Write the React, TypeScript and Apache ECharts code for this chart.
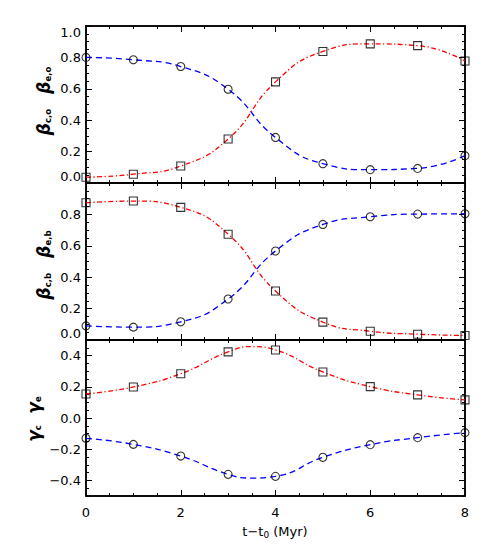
import React, { useEffect, useRef } from 'react';
import * as echarts from 'echarts';

// ---- data ----
const tValues = [0, 1, 2, 3, 4, 5, 6, 7, 8];

// top panel
const betaCO = [0.8, 0.785, 0.742, 0.597, 0.29, 0.123, 0.085, 0.093, 0.174]; // blue, circles
const betaEO = [0.037, 0.056, 0.108, 0.28, 0.644, 0.838, 0.886, 0.875, 0.777]; // red, squares

// middle panel
const betaCB = [0.09, 0.082, 0.116, 0.261, 0.567, 0.736, 0.785, 0.802, 0.804]; // blue, circles
const betaEB = [0.874, 0.885, 0.845, 0.674, 0.312, 0.114, 0.056, 0.037, 0.029]; // red, squares

// bottom panel
const gammaC = [-0.13, -0.169, -0.244, -0.361, -0.374, -0.252, -0.171, -0.126, -0.094]; // blue, circles
const gammaE = [0.154, 0.199, 0.284, 0.424, 0.436, 0.295, 0.201, 0.148, 0.116]; // red, squares
// extra curve points read between markers (bottom panel extremum)
const gammaCExtra: [number, number][] = [[3.5, -0.385]];
const gammaEExtra: [number, number][] = [[3.5, 0.458]];

const xMajorTicks = [0, 2, 4, 6, 8];
const bottomYTicks = [-0.4, -0.2, 0.0, 0.2, 0.4];

const BLUE = '#0000ff';
const RED = '#ff0000';
const FONT = 'DejaVu Sans';

const pairs = (ys: number[]) => tValues.map((t, i) => [t, ys[i]]);
const withExtra = (ys: number[], extra: [number, number][]) =>
  [...pairs(ys), ...extra].sort((a, b) => a[0] - b[0]);

const fmt = (v: number) => (v < -1e-9 ? '\u2212' : '') + Math.abs(v).toFixed(1);

const GRID_LEFT = 86;
const GRID_W = 379;
const panels = [
  { top: 26, height: 157, min: 0, max: 1 },
  { top: 183, height: 157, min: 0, max: 1 },
  { top: 340, height: 156, min: -0.5, max: 0.5 },
];

function buildOption() {
  const grid = panels.map((p) => ({
    left: GRID_LEFT,
    width: GRID_W,
    top: p.top,
    height: p.height,
    containLabel: false,
  }));

  const axisLine = { show: true, onZero: false, lineStyle: { color: '#000', width: 1.5 } };
  const xAxis: any[] = [];
  const yAxis: any[] = [];

  panels.forEach((p, g) => {
    (['bottom', 'top'] as const).forEach((pos) => {
      [true, false].forEach((major) => {
        const showLabel = major && pos === 'bottom' && g === 2;
        xAxis.push({
          type: 'value',
          gridIndex: g,
          position: pos,
          min: 0,
          max: 8,
          interval: major ? 2 : 0.5,
          axisLine,
          axisTick: { show: true, inside: true, length: major ? 6 : 3, lineStyle: { color: '#000', width: 1 } },
          axisLabel: {
            show: showLabel,
            margin: 10,
            color: '#000',
            fontSize: 13,
            fontFamily: FONT,
            formatter: (v: number) => String(Math.round(v)),
            customValues: showLabel ? xMajorTicks : undefined,
          },
          splitLine: { show: false },
        });
      });
    });
    (['left', 'right'] as const).forEach((pos) => {
      [true, false].forEach((major) => {
        const showLabel = major && pos === 'left';
        const ax: any = {
          type: 'value',
          gridIndex: g,
          position: pos,
          min: p.min,
          max: p.max,
          interval: major ? (g === 2 ? 0.1 : 0.2) : 0.05,
          axisLine,
          axisTick: { show: true, inside: true, length: major ? 6 : 3, lineStyle: { color: '#000', width: 1 } },
          axisLabel: {
            show: showLabel,
            margin: 5,
            color: '#000',
            fontSize: 13,
            fontFamily: FONT,
            formatter: (v: number) => (g === 1 && v > 0.99 ? '' : fmt(v)),
          },
          splitLine: { show: false },
        };
        if (major && g === 2) {
          ax.axisTick.customValues = bottomYTicks;
          ax.axisLabel.customValues = bottomYTicks;
        }
        if (showLabel && g !== 2) {
          ax.axisLabel.verticalAlignMinLabel = 'bottom';
          if (g === 0) ax.axisLabel.verticalAlignMaxLabel = 'top';
        }
        yAxis.push(ax);
      });
    });
  });

  const blueLine = (g: number, data: number[][]) => ({
    type: 'line',
    xAxisIndex: 4 * g,
    yAxisIndex: 4 * g,
    data,
    smooth: 0.5,
    showSymbol: false,
    symbol: 'none',
    lineStyle: { color: BLUE, width: 1.3, type: [6, 4] },
    z: 2,
  });
  const redLine = (g: number, data: number[][]) => ({
    type: 'line',
    xAxisIndex: 4 * g,
    yAxisIndex: 4 * g,
    data,
    smooth: 0.5,
    showSymbol: false,
    symbol: 'none',
    lineStyle: { color: RED, width: 1.3, type: [5, 2.5, 1.2, 2.5] },
    z: 2,
  });
  const markers = (g: number, data: number[][], symbol: string) => ({
    type: 'scatter',
    xAxisIndex: 4 * g,
    yAxisIndex: 4 * g,
    data,
    symbol,
    symbolSize: 8,
    itemStyle: { color: 'rgba(0,0,0,0)', borderColor: '#000', borderWidth: 1.1 },
    z: 3,
  });

  const series = [
    blueLine(0, pairs(betaCO)),
    redLine(0, pairs(betaEO)),
    markers(0, pairs(betaCO), 'circle'),
    markers(0, pairs(betaEO), 'rect'),
    blueLine(1, pairs(betaCB)),
    redLine(1, pairs(betaEB)),
    markers(1, pairs(betaCB), 'circle'),
    markers(1, pairs(betaEB), 'rect'),
    blueLine(2, withExtra(gammaC, gammaCExtra)),
    redLine(2, withExtra(gammaE, gammaEExtra)),
    markers(2, pairs(gammaC), 'circle'),
    markers(2, pairs(gammaE), 'rect'),
  ];

  const greek = { fill: '#000', fontFamily: FONT, fontSize: 17, fontWeight: 'bold', fontStyle: 'italic' };
  const sub = { fill: '#000', fontFamily: FONT, fontSize: 8.5, fontWeight: 'bold', verticalAlign: 'bottom' };
  const rotLabel = (x: number, y: number, text: string) => ({
    type: 'text',
    x,
    y,
    rotation: Math.PI / 2,
    style: {
      text,
      fill: '#000',
      fontFamily: FONT,
      fontSize: 12,
      align: 'center',
      verticalAlign: 'middle',
      rich: { g: greek, s: sub },
    },
    z: 10,
  });

  const graphic = [
    rotLabel(44, 101, '{g|β}{s|c,o}    {g|β}{s|e,o}'),
    rotLabel(44, 265, '{g|β}{s|c,b}    {g|β}{s|e,b}'),
    rotLabel(34, 419, '{g|γ}{s|c}   {g|γ}{s|e}'),
    {
      type: 'text',
      x: 275,
      y: 532,
      style: {
        text: '{t|t\u2212t}{s|0}{t| (Myr)}',
        align: 'center',
        verticalAlign: 'middle',
        fill: '#000',
        fontFamily: FONT,
        fontSize: 13,
        rich: {
          t: { fill: '#000', fontFamily: FONT, fontSize: 13, lineHeight: 15, verticalAlign: 'top' },
          s: { fill: '#000', fontFamily: FONT, fontSize: 9, verticalAlign: 'bottom', padding: [6, 0, 0, 0] },
        },
      },
      z: 10,
    },
  ];

  return {
    animation: false,
    backgroundColor: '#ffffff',
    grid,
    xAxis,
    yAxis,
    series,
    graphic,
  };
}

export default function App() {
  const ref = useRef<HTMLDivElement>(null);
  useEffect(() => {
    if (!ref.current) return;
    const chart = echarts.init(ref.current, undefined, { renderer: 'svg' });
    chart.setOption(buildOption() as any);
    return () => chart.dispose();
  }, []);
  return (
    <div
      ref={ref}
      style={{ position: 'fixed', left: 0, top: 0, width: 491, height: 551, background: '#fff' }}
    />
  );
}
